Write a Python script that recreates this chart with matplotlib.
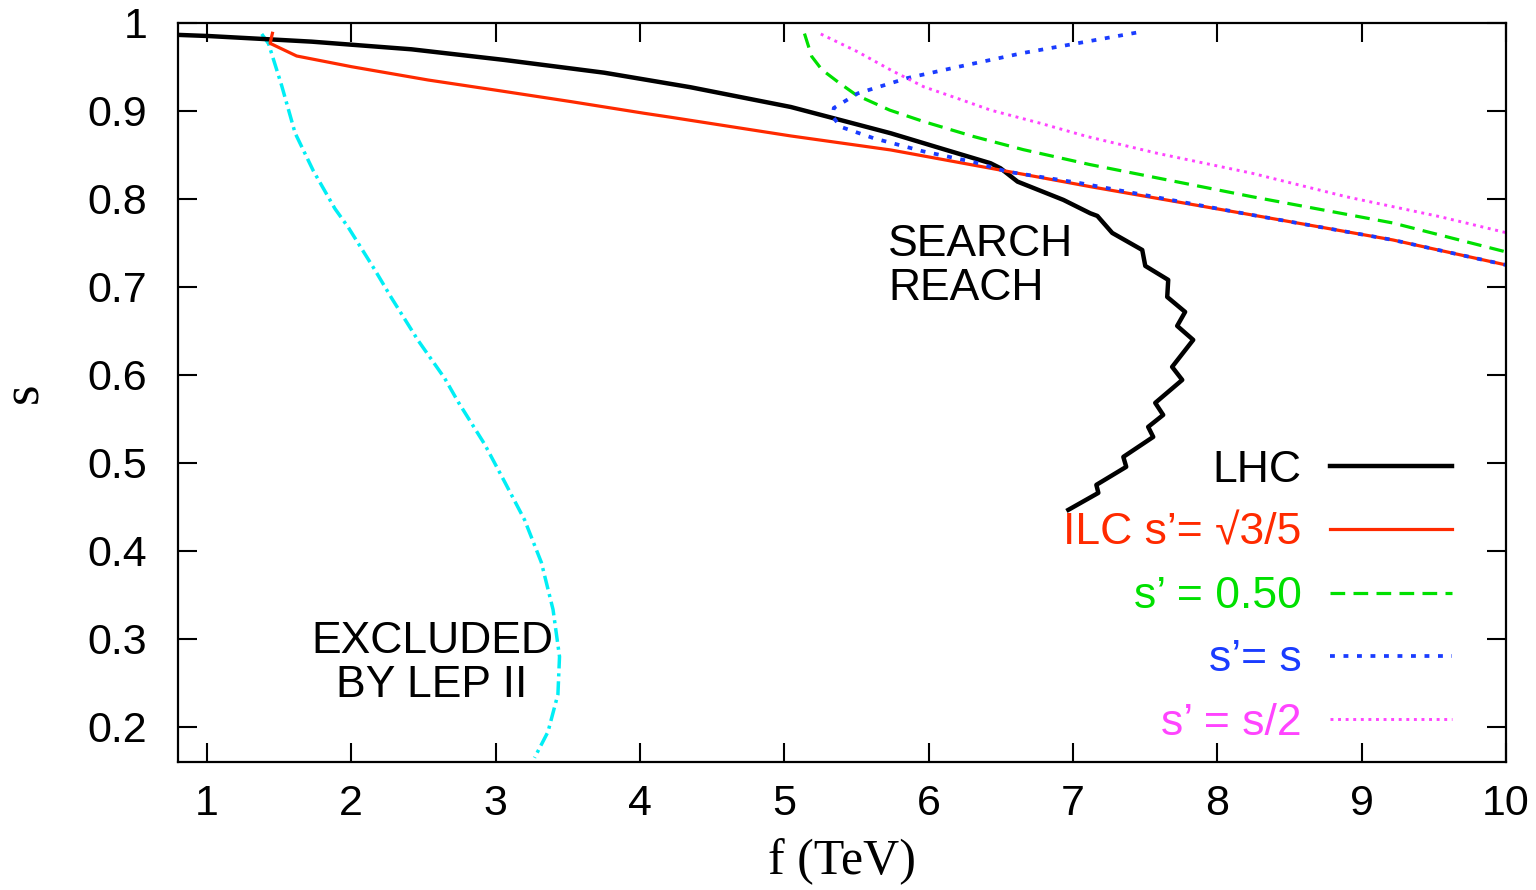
import matplotlib
matplotlib.use('Agg')
import matplotlib.pyplot as plt

# curves (f in TeV, s)
lhc_f = [0.815, 1.01, 1.427, 1.726, 2.418, 3.061, 3.753, 4.216, 4.35, 5.046, 5.343, 5.737,
         6.083, 6.429, 6.498, 6.616, 6.934, 7.12, 7.169, 7.272, 7.480, 7.501, 7.660, 7.653,
         7.777, 7.722, 7.833, 7.687, 7.757, 7.570, 7.625, 7.521, 7.556, 7.349, 7.369, 7.162,
         7.176, 6.968]
lhc_s = [0.9864, 0.9852, 0.9815, 0.9788, 0.9701, 0.958, 0.9435, 0.9307, 0.927, 0.9045, 0.8917,
         0.8747, 0.8576, 0.8406, 0.8349, 0.8197, 0.7989, 0.7837, 0.7807, 0.7614, 0.7420, 0.7239,
         0.7080, 0.6886, 0.6716, 0.6557, 0.6398, 0.6091, 0.5943, 0.5682, 0.5545, 0.5409, 0.5295,
         0.5068, 0.4955, 0.4750, 0.4659, 0.4466]

ilc_f = [1.454, 1.438, 1.622, 2.003, 2.533, 2.992, 3.524, 4.029, 4.216, 5.046, 5.737, 6.429,
         7.12, 8.241, 9.216, 10.0]
ilc_s = [0.9883, 0.9769, 0.9625, 0.9503, 0.9352, 0.9239, 0.9106, 0.8974, 0.8928, 0.8716,
         0.8557, 0.8349, 0.814, 0.7818, 0.7534, 0.725]

half_f = [5.14, 5.19, 5.26, 5.38, 5.50, 5.73, 5.965, 6.311, 6.657, 7.12, 8.239, 9.216, 10.0]
half_s = [0.988, 0.962, 0.947, 0.932, 0.918, 0.901, 0.888, 0.871, 0.856, 0.839, 0.8026,
          0.7727, 0.7398]

same_f = [7.438, 7.10, 6.657, 6.20, 5.855, 5.509, 5.343, 5.336, 5.39, 5.62, 5.965, 6.311,
          6.546, 7.05, 8.241, 9.216, 10.0]
same_s = [0.989, 0.979, 0.966, 0.950, 0.9375, 0.920, 0.9034, 0.8935, 0.882, 0.869, 0.854,
          0.842, 0.831, 0.818, 0.7818, 0.7534, 0.725]

s2_f = [5.253, 5.507, 5.737, 5.965, 6.198, 6.429, 6.775, 7.097, 7.584, 8.241, 8.891, 9.541,
        10.0]
s2_s = [0.9875, 0.9674, 0.9466, 0.9276, 0.9144, 0.901, 0.886, 0.871, 0.8519, 0.8292, 0.8026,
        0.7799, 0.7617]

lep_f = [1.380, 1.427, 1.519, 1.611, 1.738, 1.887, 1.980, 2.164, 2.279, 2.464, 2.648, 2.741,
         2.925, 3.063, 3.201, 3.317, 3.398, 3.443, 3.432, 3.363, 3.27]
lep_s = [0.9875, 0.9766, 0.9284, 0.875, 0.8318, 0.789, 0.7676, 0.7193, 0.6875, 0.639, 0.596,
         0.5693, 0.521, 0.4784, 0.4352, 0.3869, 0.3334, 0.2798, 0.2369, 0.1943, 0.1648]

labels = ['LHC', 'ILC s\u2019= \u221a3/5', 's\u2019 = 0.50', 's\u2019= s', 's\u2019 = s/2']
xticks = [1, 2, 3, 4, 5, 6, 7, 8, 9, 10]
yticks = [0.2, 0.3, 0.4, 0.5, 0.6, 0.7, 0.8, 0.9, 1]
ytick_labels = ['0.2', '0.3', '0.4', '0.5', '0.6', '0.7', '0.8', '0.9', '1']

plt.rcParams['font.family'] = ['Liberation Sans', 'DejaVu Sans']

fig = plt.figure(figsize=(15.36, 8.9), dpi=100)
ax = fig.add_axes([178 / 1536, 1 - 762 / 890, 1328 / 1536, 739 / 890])

ax.plot(lep_f, lep_s, color='#00eef5', lw=2.5, dashes=(4, 1.4, 0.9, 1.4))
ax.plot(lhc_f, lhc_s, color='black', lw=3.2, label=labels[0])
ax.plot(ilc_f, ilc_s, color='#ff2a00', lw=2.3, label=labels[1])
ax.plot(half_f, half_s, color='#00e000', lw=2.3, dashes=(4.6, 2.6), label=labels[2])
ax.plot(same_f, same_s, color='#1a3cff', lw=2.7, dashes=(1.3, 2.3), label=labels[3])
ax.plot(s2_f, s2_s, color='#ff44ff', lw=2.1, dashes=(1.0, 1.6), label=labels[4])

ax.set_xlim(0.8, 10)
ax.set_ylim(0.16, 1.0)
ax.set_xticks(xticks)
ax.set_yticks(yticks)
ax.set_yticklabels(ytick_labels)
ax.tick_params(direction='in', length=14, width=1.5, top=True, right=True,
               labelsize=31, pad=16)
ax.tick_params(axis='y', pad=22)
for sp in ax.spines.values():
    sp.set_linewidth(1.6)

ax.set_xlabel('f (TeV)', family='Liberation Serif', fontsize=36, labelpad=10)
ax.set_ylabel('s', family='Liberation Serif', fontsize=38, labelpad=28)

ax.text(5.72, 0.772, 'SEARCH\nREACH', fontsize=32, va='top', ha='left', linespacing=1.12)
ax.text(2.56, 0.320, 'EXCLUDED\nBY LEP II', fontsize=32, va='top', ha='center',
        linespacing=1.1)

leg = ax.legend(loc='lower right', bbox_to_anchor=(0.9593, 0.025), frameon=False,
                markerfirst=False, fontsize=32, handlelength=2.75, handletextpad=0.63,
                labelspacing=0.5, borderpad=0, borderaxespad=0, labelcolor='linecolor')

fig.savefig('out.png', dpi=100)
